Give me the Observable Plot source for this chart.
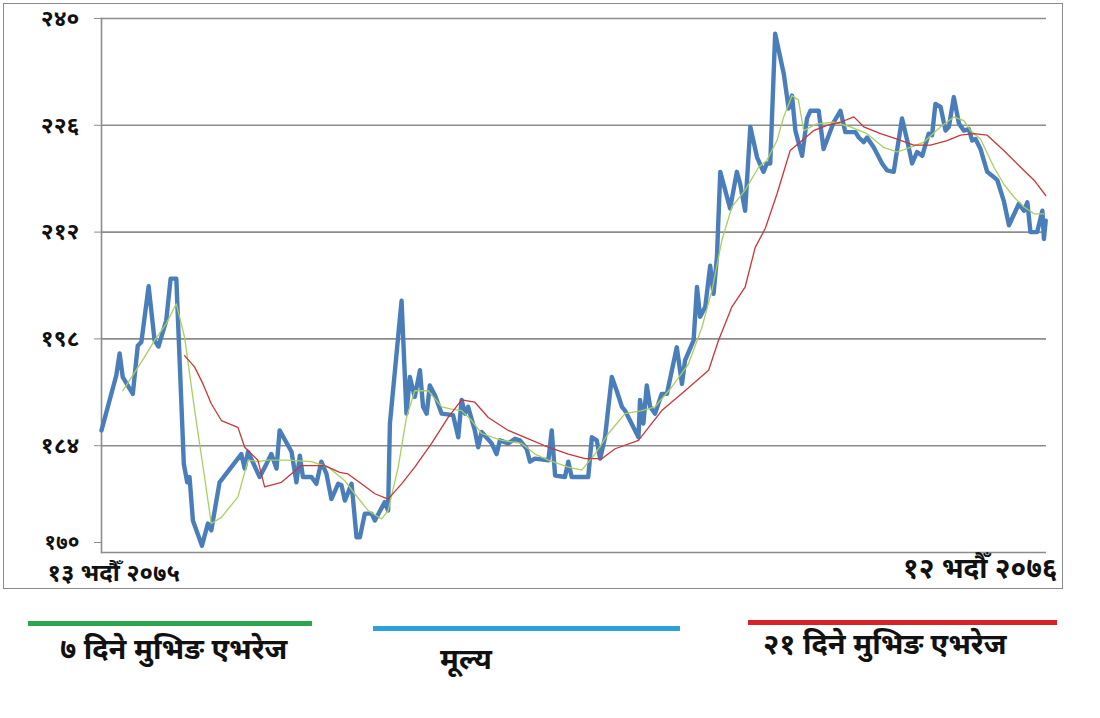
<!DOCTYPE html>
<html><head><meta charset="utf-8">
<script src="https://cdn.jsdelivr.net/npm/d3@7"></script>
<script src="https://cdn.jsdelivr.net/npm/@observablehq/plot@0.6"></script>
<style>
body{margin:0;background:#fff;font-family:"Noto Sans","Noto Sans CJK SC",sans-serif;}
#wrap{position:relative;width:1100px;height:718px;overflow:hidden;}
#frame{position:absolute;left:3px;top:3px;width:1058px;height:584px;border:1.5px solid #8a8a8a;}
#chart{position:absolute;left:0;top:0;}
.legline{position:absolute;height:5px;}
.legtxt{position:absolute;font-weight:bold;font-size:29px;line-height:34px;color:#111;white-space:nowrap;}
</style></head>
<body><div id="wrap"><div id="frame"></div><div id="chart"></div>
<div class="legline" style="left:28px;top:621px;width:284px;background:#2ea44f"></div>
<div class="legline" style="left:373px;top:626px;width:307px;background:#2aa3d8"></div>
<div class="legline" style="left:748px;top:620px;width:309px;background:#d8222a"></div>
<div class="legtxt" id="l1" style="left:60px;top:631px;"></div>
<div class="legtxt" id="l2" style="left:440px;top:641px;"></div>
<div class="legtxt" id="l3" style="left:763px;top:626px;"></div>
</div>
<script>
// ---- data (x = days from 13 Bhadra 2075, y = price) ----
const priceDay = [0,5.7,7.0,8.2,12.1,14.0,15.4,18.2,20.5,22.0,25.0,26.7,28.9,31.8,33.1,34.0,35.3,38.8,41.1,42.4,45.6,54.0,55.3,56.6,61.1,63.7,65.6,67.6,68.8,73.4,75.3,76.6,77.8,81.1,83.0,84.9,86.9,88.8,91.4,92.7,94.0,96.6,98.5,99.8,101.7,104.3,105.6,109.4,110.7,111.4,115.9,117.8,119.1,121.0,123.0,124.2,125.6,126.8,128.8,131.4,135.8,137.8,139.1,140.4,141.6,144.2,145.5,146.8,150.7,152.6,153.9,157.1,159.7,161.6,164.2,165.5,167.4,172.6,173.9,175.2,179.0,180.3,181.6,184.8,188.0,189.4,191.3,192.6,194.5,195.8,197.1,199.0,201.0,202.2,207.4,208.0,209.3,210.6,211.9,213.8,216.4,218.4,222.2,224.2,225.4,228.7,230.0,231.2,233.2,235.1,236.4,237.7,239.0,242.8,245.4,246.7,248.6,250.6,253.2,255.7,257.0,258.3,260.2,263.5,265.4,266.7,268.0,270.6,272.5,273.8,277.0,278.9,282.8,285.4,287.3,291.2,292.5,294.4,295.7,298.3,301.5,303.4,306.0,309.2,311.2,313.1,315.0,317.0,319.5,320.8,322.1,324.1,326.0,327.3,329.2,331.2,333.1,335.0,336.3,337.6,339.5,342.1,344.0,346.0,348.5,350.5,353.1,354.3,356.3,357.6,358.8,361.4,363.4,364.0,364.7];
const priceValue = [186.0,193.2,196.1,193.0,190.8,197.1,197.6,204.9,197.8,197.0,200.4,205.9,205.9,181.6,179.2,179.9,174.2,170.9,173.8,172.9,179.2,182.9,181.0,183.2,179.9,181.6,182.9,181.0,186.0,183.2,179.2,182.7,179.9,179.9,179.0,181.9,180.3,177.0,179.0,178.8,176.8,179.0,172.0,172.0,175.1,175.1,174.2,176.6,175.5,186.9,203.0,188.2,193.0,190.4,193.9,189.1,188.2,191.9,190.6,188.2,188.0,185.1,190.0,188.2,189.1,186.0,183.8,185.8,184.3,182.9,184.7,184.3,184.9,184.7,183.6,181.9,182.3,182.1,186.0,180.1,179.9,181.9,179.9,179.9,179.9,185.1,184.7,182.3,185.1,189.1,193.0,191.2,189.1,188.6,185.1,190.0,186.9,191.9,189.1,188.2,190.8,190.8,196.9,192.1,195.2,197.8,204.8,200.9,202.2,207.6,203.9,208.7,219.9,215.1,219.9,218.3,214.8,225.8,221.8,219.9,221.0,221.0,238.0,232.8,228.2,229.9,225.3,222.0,226.9,227.9,227.9,222.9,226.4,227.9,225.1,225.1,224.4,223.8,224.4,223.1,221.0,220.1,219.9,226.9,224.0,221.0,222.5,222.0,224.9,224.7,228.8,228.4,225.3,225.8,229.7,226.2,225.3,225.5,224.0,224.2,222.9,219.9,219.4,218.8,216.1,212.9,214.8,215.7,214.8,215.9,212.0,212.0,214.8,211.1,213.5];

const ma7Day = [8.2,16.6,20.5,25.0,28.9,32.1,36.0,39.8,42.4,46.3,52.7,56.6,60.4,64.3,72.0,81.1,87.5,94.0,97.8,103.0,108.2,110.7,114.6,117.8,121.0,126.2,131.4,135.2,139.1,143.0,146.8,154.6,162.3,167.4,172.6,180.3,185.5,190.6,195.8,202.2,208.7,213.8,220.3,226.7,231.9,235.8,239.6,243.5,248.6,253.8,257.0,260.9,263.5,266.7,269.2,271.2,276.3,282.8,289.3,295.7,302.1,307.3,312.5,317.6,324.1,329.2,333.1,335.7,339.5,344.7,348.5,352.4,356.3,360.2,364.0];
const ma7Value = [191.2,195.6,197.8,200.0,202.6,198.2,188.6,179.9,173.8,174.6,177.3,182.1,181.9,182.1,182.1,181.9,181.2,179.4,177.7,175.5,174.4,175.5,181.2,187.7,191.2,191.2,189.1,188.8,188.6,187.3,185.6,184.7,184.3,182.9,182.1,181.2,180.8,182.9,185.6,188.2,188.6,189.1,191.7,194.7,199.5,204.4,210.9,215.3,217.5,220.5,221.4,224.0,227.1,229.9,229.3,225.3,226.2,226.4,225.8,224.9,223.1,222.5,223.1,223.8,225.8,227.1,226.6,225.3,224.2,220.5,218.3,216.6,215.3,214.4,214.4];

const ma21Day = [32.1,36.0,39.2,42.4,46.3,52.7,55.3,60.4,63.0,69.5,77.2,86.2,92.0,95.2,100.4,105.6,110.7,115.9,121.0,127.5,133.9,139.1,144.2,149.4,157.1,164.9,172.6,180.3,186.8,193.2,198.4,207.4,216.4,225.4,234.5,238.3,243.5,248.6,252.5,256.4,260.9,266.0,269.9,275.0,280.2,285.4,290.6,294.4,300.9,307.3,313.7,320.2,326.6,331.8,336.9,342.1,348.5,355.0,360.2,364.7];
const ma21Value = [195.8,194.3,192.1,189.5,187.3,186.4,183.8,182.1,178.6,179.2,181.4,181.4,180.5,180.3,179.0,177.7,177.0,179.0,181.2,184.3,187.7,190.0,189.7,187.7,186.0,184.9,183.8,182.9,182.3,182.3,183.6,184.7,188.6,191.2,193.9,197.8,202.2,204.8,210.0,212.5,217.0,222.7,223.8,225.3,226.0,226.4,227.1,225.8,224.9,224.2,223.4,223.4,224.0,224.7,224.9,224.7,222.7,220.5,218.8,216.8];

const yTicks = [170,184,198,212,226,240];
const yTickLabels = ["१७०","१८४","१९८","२१२","२२६","२४०"];
const xEndDays = [0,365];
const xEndLabels = ["१३ भदौँ २०७५","१२ भदौँ २०७६"];
const legendLabels = ["७ दिने मुभिङ एभरेज","मूल्य","२१ दिने मुभिङ एभरेज"];

// ---- build ----
const price = priceDay.map((d,i)=>({day:d,value:priceValue[i]}));
const ma7 = ma7Day.map((d,i)=>({day:d,value:ma7Value[i]}));
const ma21 = ma21Day.map((d,i)=>({day:d,value:ma21Value[i]}));
const font = '"Noto Sans", sans-serif';
const fmt = v => yTickLabels[yTicks.indexOf(v)];
const axisStyle = {tickFormat:fmt, tickSize:7, tickPadding:15, fontSize:23, fontWeight:"bold", fill:"#111", stroke:"#8c8c8c", label:null};

const chart = Plot.plot({
  width:1100, height:595,
  marginLeft:101, marginRight:54, marginTop:18, marginBottom:43,
  style:{fontFamily:font, background:"transparent", overflow:"visible"},
  x:{domain:[0,365], axis:null},
  y:{domain:[170,240], axis:null},
  marks:[
    Plot.ruleY(yTicks,{stroke:"#8c8c8c", strokeWidth:1.6}),
    Plot.axisY(yTicks.slice(1), axisStyle),
    Plot.axisY(yTicks.slice(0,1), {...axisStyle, fontSize:21, dy:-10}),
    Plot.frame({anchor:"left", stroke:"#8c8c8c", strokeWidth:1.6}),
    Plot.line(price,{x:"day", y:"value", stroke:"#4a7ebb", strokeWidth:4.4, strokeLinejoin:"round", curve:"linear"}),
    Plot.line(ma7,{x:"day", y:"value", stroke:"#a9cf5e", strokeWidth:1.3, curve:"linear"}),
    Plot.line(ma21,{x:"day", y:"value", stroke:"#c8363a", strokeWidth:1.3, curve:"linear"}),
    Plot.text([xEndDays[0]],{x:d=>d, frameAnchor:"bottom", text:()=>xEndLabels[0], textAnchor:"start", dx:-54, dy:28, fontSize:24, fontWeight:"bold", fill:"#111"}),
    Plot.text([xEndDays[1]],{x:d=>d, frameAnchor:"bottom", text:()=>xEndLabels[1], textAnchor:"end", dx:11, dy:25, fontSize:28, fontWeight:"bold", fill:"#111"})
  ]
});
document.getElementById("chart").appendChild(chart);
document.getElementById("l1").textContent = legendLabels[0];
document.getElementById("l2").textContent = legendLabels[1];
document.getElementById("l3").textContent = legendLabels[2];
</script>
</body></html>
